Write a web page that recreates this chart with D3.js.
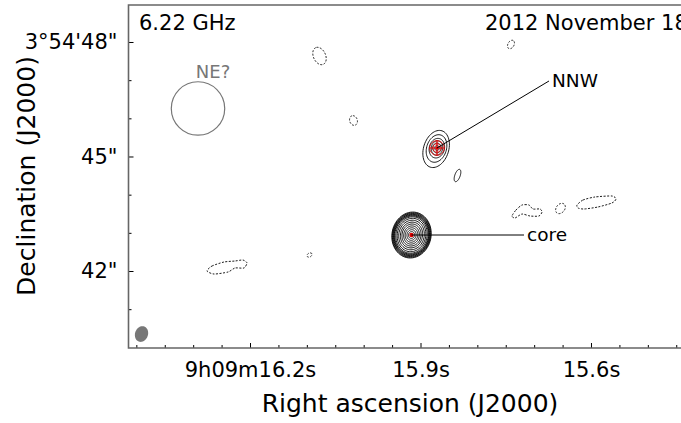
<!DOCTYPE html>
<html>
<head>
<meta charset="utf-8">
<script src="https://cdn.jsdelivr.net/npm/d3@7"></script>
<style>
  body { margin: 0; background: #fff; }
  svg { display: block; font-family: "DejaVu Sans", sans-serif; }
</style>
</head>
<body>
<div id="chart"></div>
<script>
// view limits (RA seconds of 9h09m, Dec arcsec of 3°54')
let raLim = [16.4138, 15.4082];
let decLim = [39.983, 48.969];

let raMajor = [16.2, 15.9, 15.6];
let raMajorLabels = ['9h09m16.2s', '15.9s', '15.6s'];
let raMinor = [16.40, 16.35, 16.30, 16.25, 16.15, 16.10, 16.05, 16.00, 15.95, 15.85, 15.80, 15.75, 15.70, 15.65, 15.55, 15.50, 15.45];
let decMajor = [42, 45, 48];
let decMajorLabels = ['42"', '45"', '3°54\'48"'];
let decMinor = [41, 43, 44, 46, 47];

// positive contours, ellipses: [ra, dec, semi-major ", semi-minor ", PA deg]
let coreRa = 15.9158, coreDec = 42.943;
let coreA = [0.605, 0.585, 0.565, 0.545, 0.525, 0.505, 0.48, 0.44, 0.39, 0.34, 0.29, 0.24, 0.19, 0.14, 0.09];
let coreB = [0.515, 0.50, 0.485, 0.47, 0.455, 0.44, 0.41, 0.375, 0.335, 0.29, 0.25, 0.205, 0.165, 0.12, 0.08];
let corePA = -12;

let nnwRa = 15.8710, nnwDec = 45.223;
let nnwContours = [
  [15.8725, 45.197, 0.50, 0.33, -18],
  [15.8718, 45.210, 0.37, 0.26, -18],
  [15.8712, 45.218, 0.26, 0.20, -15],
  [15.8710, 45.223, 0.19, 0.15, -10],
  [15.8710, 45.223, 0.13, 0.11, 0],
  [15.8710, 45.223, 0.07, 0.06, 0]
];
let nnwRed = [0.19, 0.11];
let smallPos = [[15.8349, 44.502, 0.17, 0.07, -20]];

// negative contours
let negEllipses = [
  [16.0777, 47.633, 0.24, 0.16, 25],
  [16.0179, 45.943, 0.13, 0.10, 20],
  [15.7408, 47.934, 0.12, 0.08, -30],
  [15.6537, 43.638, 0.15, 0.11, -40],
  [16.0953, 42.419, 0.07, 0.05, -60]
];
let negPolys = [
  [[15.7390, 43.441], [15.7320, 43.598], [15.7214, 43.729], [15.7091, 43.729], [15.7021, 43.625],
   [15.6897, 43.625], [15.6862, 43.546], [15.6915, 43.441], [15.7073, 43.441], [15.7214, 43.493], [15.7337, 43.389]],
  [[15.6246, 43.729], [15.6141, 43.860], [15.5930, 43.939], [15.5631, 43.965], [15.5560, 43.886],
   [15.5631, 43.782], [15.5877, 43.677], [15.6123, 43.624], [15.6229, 43.651]],
  [[16.2757, 42.000], [16.2669, 42.131], [16.2457, 42.236], [16.2264, 42.262], [16.2123, 42.288],
   [16.2053, 42.210], [16.2106, 42.079], [16.2264, 42.079], [16.2387, 41.974], [16.2633, 41.921]]
];

let neCircle = [16.2915, 46.258, 0.70];
let neLabel = [16.2651, 47.06, 'NE?'];
let beam = [16.3909, 40.349, 0.21, 0.17, -20];
let nnwLabel = [15.6739, 46.978, 'NNW'];
let coreLabel = [15.7179, coreDec, 'core'];

let W = 681, H = 423;
let svg = d3.select('#chart').append('svg').attr('width', W).attr('height', H);

let x = d3.scaleLinear().domain(raLim).range([128.5, 700]);
let y = d3.scaleLinear().domain(decLim).range([348, 5]);

let cosDec = Math.cos((3 + 54 / 60) * Math.PI / 180);

function ellipsePts(e) {
  let pa = e[4] * Math.PI / 180;
  let pts = [];
  for (let i = 0; i < 64; i++) {
    let t = i / 64 * 2 * Math.PI;
    let u = e[2] * Math.cos(t), v = e[3] * Math.sin(t);
    let north = u * Math.cos(pa) - v * Math.sin(pa);
    let east = u * Math.sin(pa) + v * Math.cos(pa);
    pts.push([e[0] + east / (15 * cosDec), e[1] + north]);
  }
  return pts;
}

let closedLine = d3.line().x(d => x(d[0])).y(d => y(d[1])).curve(d3.curveLinearClosed);
let smoothLine = d3.line().x(d => x(d[0])).y(d => y(d[1])).curve(d3.curveCardinalClosed.tension(0.3));

svg.append('clipPath').attr('id', 'clip')
  .append('rect').attr('x', 128.5).attr('y', 5).attr('width', 600).attr('height', 343);

let plot = svg.append('g').attr('clip-path', 'url(#clip)');

// negative contours (dashed)
plot.selectAll('path.neg').data(negEllipses.map(ellipsePts).concat(negPolys))
  .enter().append('path')
  .attr('class', 'neg')
  .attr('d', (d, i) => i < negEllipses.length ? closedLine(d) : smoothLine(d))
  .attr('fill', 'none').attr('stroke', '#000').attr('stroke-width', 0.9)
  .attr('stroke-dasharray', '2,1.5');

// core contours
let coreEll = coreA.map((a, i) => [coreRa, coreDec, a, coreB[i], corePA]);
plot.selectAll('path.core').data(coreEll).enter().append('path')
  .attr('class', 'core')
  .attr('d', d => closedLine(ellipsePts(d)))
  .attr('fill', 'none').attr('stroke', '#000').attr('stroke-width', 0.9);

// NNW contours
plot.selectAll('path.nnw').data(nnwContours.concat(smallPos)).enter().append('path')
  .attr('class', 'nnw')
  .attr('d', d => closedLine(ellipsePts(d)))
  .attr('fill', 'none').attr('stroke', '#000').attr('stroke-width', 0.9);

plot.selectAll('path.red').data(nnwRed).enter().append('path')
  .attr('d', r => closedLine(ellipsePts([nnwRa, nnwDec, r, r, 0])))
  .attr('fill', 'none').attr('stroke', '#e00000').attr('stroke-width', 1);

let crossR = 0.2;
plot.append('line')
  .attr('x1', x(nnwRa + crossR / (15 * cosDec))).attr('x2', x(nnwRa - crossR / (15 * cosDec)))
  .attr('y1', y(nnwDec)).attr('y2', y(nnwDec))
  .attr('stroke', '#e00000').attr('stroke-width', 1.2);
plot.append('line')
  .attr('x1', x(nnwRa)).attr('x2', x(nnwRa))
  .attr('y1', y(nnwDec + crossR)).attr('y2', y(nnwDec - crossR))
  .attr('stroke', '#e00000').attr('stroke-width', 1.2);

plot.append('circle').attr('cx', x(coreRa)).attr('cy', y(coreDec)).attr('r', 2.2).attr('fill', '#e00000');
plot.append('circle').attr('cx', x(nnwRa)).attr('cy', y(nnwDec)).attr('r', 1.8).attr('fill', '#e00000');

// NE? circle
plot.append('circle')
  .attr('cx', x(neCircle[0])).attr('cy', y(neCircle[1]))
  .attr('r', y(neCircle[1] - neCircle[2]) - y(neCircle[1]))
  .attr('fill', 'none').attr('stroke', '#777').attr('stroke-width', 1.2);
plot.append('text').attr('x', x(neLabel[0])).attr('y', y(neLabel[1]))
  .attr('text-anchor', 'middle').attr('font-size', 18).attr('fill', '#777').text(neLabel[2]);

// beam
plot.append('path').attr('d', closedLine(ellipsePts(beam))).attr('fill', '#777').attr('stroke', 'none');

// labels with pointers
plot.append('line')
  .attr('x1', x(nnwRa)).attr('y1', y(nnwDec))
  .attr('x2', x(nnwLabel[0])).attr('y2', y(nnwLabel[1]))
  .attr('stroke', '#000').attr('stroke-width', 1);
plot.append('text').attr('x', x(nnwLabel[0]) + 3).attr('y', y(nnwLabel[1]))
  .attr('dy', '0.35em').attr('font-size', 18.5).text(nnwLabel[2]);
plot.append('line')
  .attr('x1', x(coreRa)).attr('y1', y(coreDec))
  .attr('x2', x(coreLabel[0])).attr('y2', y(coreLabel[1]))
  .attr('stroke', '#000').attr('stroke-width', 1);
plot.append('text').attr('x', x(coreLabel[0]) + 3).attr('y', y(coreLabel[1]))
  .attr('dy', '0.35em').attr('font-size', 18.5).text(coreLabel[2]);

// corner texts
plot.append('text').attr('x', 139).attr('y', 30).attr('font-size', 21).text('6.22 GHz');
plot.append('text').attr('x', 485).attr('y', 30).attr('font-size', 21).text('2012 November 18');

// axes
let xAxis = d3.axisBottom(x).tickValues(raMajor).tickSize(-5).tickPadding(14)
  .tickFormat((d, i) => raMajorLabels[i]);
let xMinor = d3.axisBottom(x).tickValues(raMinor).tickSize(-3).tickFormat('');
let yAxis = d3.axisLeft(y).tickValues(decMajor).tickSize(-5).tickPadding(11)
  .tickFormat((d, i) => decMajorLabels[i]);
let yMinor = d3.axisLeft(y).tickValues(decMinor).tickSize(-3).tickFormat('');

[
  svg.append('g').attr('transform', 'translate(0,348)').call(xAxis),
  svg.append('g').attr('transform', 'translate(0,348)').call(xMinor),
  svg.append('g').attr('transform', 'translate(128.5,0)').call(yAxis),
  svg.append('g').attr('transform', 'translate(128.5,0)').call(yMinor)
].forEach(g => {
  g.select('.domain').remove();
  g.selectAll('line').attr('stroke', '#000').attr('stroke-width', 1);
  g.selectAll('text').attr('font-size', 21).attr('font-family', '"DejaVu Sans", sans-serif').attr('fill', '#000');
});

// spines
svg.append('path')
  .attr('d', 'M700,5H128.5V348H700')
  .attr('fill', 'none').attr('stroke', '#666').attr('stroke-width', 1.6);

svg.append('text').attr('x', 410).attr('y', 412).attr('text-anchor', 'middle')
  .attr('font-size', 25).text('Right ascension (J2000)');
svg.append('text').attr('transform', 'translate(35,176) rotate(-90)').attr('text-anchor', 'middle')
  .attr('font-size', 25).text('Declination (J2000)');
</script>
</body>
</html>
